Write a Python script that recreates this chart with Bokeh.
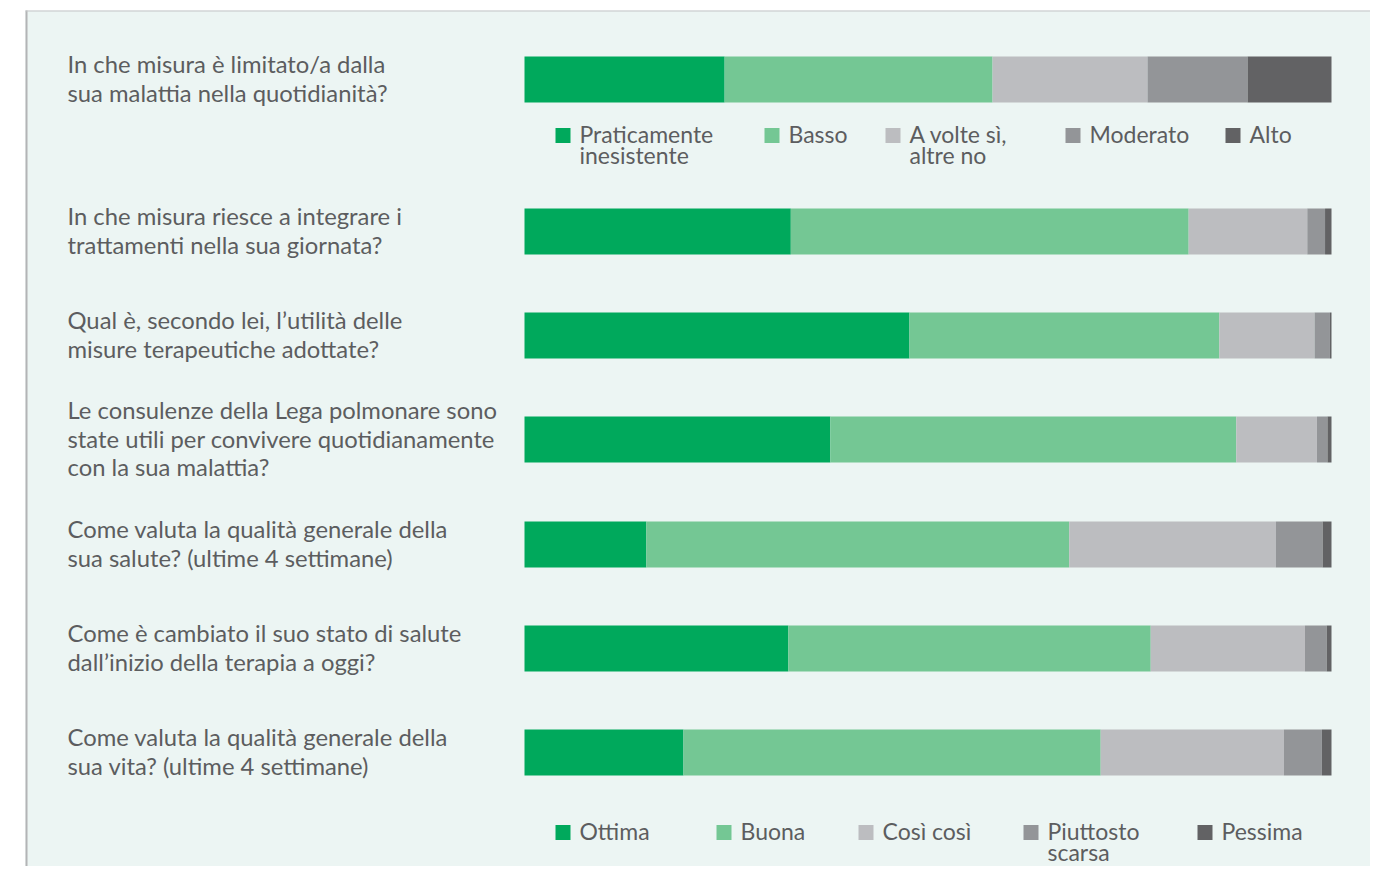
from bokeh.plotting import figure
from bokeh.models import Range1d
from bokeh.core.properties import value
from bokeh.embed import file_html
from bokeh.resources import INLINE

# ---------------- data ----------------
questions = [
    "In che misura è limitato/a dalla\nsua malattia nella quotidianità?",
    "In che misura riesce a integrare i\ntrattamenti nella sua giornata?",
    "Qual è, secondo lei, l’utilità delle\nmisure terapeutiche adottate?",
    "Le consulenze della Lega polmonare sono\nstate utili per convivere quotidianamente\ncon la sua malattia?",
    "Come valuta la qualità generale della\nsua salute? (ultime 4 settimane)",
    "Come è cambiato il suo stato di salute\ndall’inizio della terapia a oggi?",
    "Come valuta la qualità generale della\nsua vita? (ultime 4 settimane)",
]
# shares (%) per answer level, in the order of the questions above
level_1 = [24.8, 33.0, 47.7, 37.9, 15.1, 32.7, 19.7]
level_2 = [33.2, 49.3, 38.4, 50.3, 52.4, 44.9, 51.7]
level_3 = [19.2, 14.7, 11.8, 10.0, 25.6, 19.1, 22.7]
level_4 = [12.4, 2.2, 1.9, 1.3, 5.8, 2.7, 4.7]
level_5 = [10.4, 0.8, 0.2, 0.5, 1.1, 0.6, 1.2]

limit_labels = ["Praticamente\ninesistente", "Basso", "A volte sì,\naltre no", "Moderato", "Alto"]
rating_labels = ["Ottima", "Buona", "Così così", "Piuttosto\nscarsa", "Pessima"]

colors = ["#00a95c", "#74c794", "#bcbdc0", "#939598", "#626264"]

# ---------------- layout helpers ----------------
W, H = 1370, 866
X0, X100 = 524, 1331          # px of 0% and 100%
K = (X100 - X0) / 100.0


def sx(px):
    return (px - X0) / K


p = figure(width=W, height=H, output_backend="svg", toolbar_location=None,
           x_range=Range1d(sx(0), sx(W)), y_range=Range1d(H, 0),
           min_border=0, outline_line_color=None,
           background_fill_color="white", border_fill_color="white")
p.axis.visible = False
p.grid.visible = False

# panel
p.quad(left=[sx(25)], right=[sx(1400)], top=[10], bottom=[900],
       fill_color="#ecf5f3", line_color=None)
p.segment(x0=[sx(26)], y0=[10], x1=[sx(26)], y1=[900], line_color="#b3b4b6", line_width=2)
p.segment(x0=[sx(25)], y0=[10.5], x1=[sx(1400)], y1=[10.5], line_color="#c4c5c7", line_width=1)

centers = [79, 231, 335, 439, 544, 648, 752]
levels = [level_1, level_2, level_3, level_4, level_5]
left = [0.0] * len(questions)
for vals, col in zip(levels, colors):
    right = [l + v for l, v in zip(left, vals)]
    p.hbar(y=centers, left=left, right=right, height=46, fill_color=col, line_color=None)
    left = right

TXT = "#5c5d5f"
FONT = value("Lato")
LH = 28.7
tx, ty, tt = [], [], []
for q, c in zip(questions, centers):
    lines = q.split("\n")
    n = len(lines)
    for i, ln in enumerate(lines):
        tx.append(sx(67))
        ty.append(c - 1 + (i - (n - 1) / 2) * LH)
        tt.append(ln)
p.text(x=tx, y=ty, text=tt, text_font=FONT, text_font_size="23.8px",
       text_color=TXT, text_baseline="middle", text_align="left")


def legend(labels, sq_x, y):
    lx, ly, lt = [], [], []
    for lab, x, col in zip(labels, sq_x, colors):
        p.scatter(x=[sx(x + 7.5)], y=[y], marker="square", size=15, fill_color=col, line_color=None)
        for i, ln in enumerate(lab.split("\n")):
            lx.append(sx(x + 24))
            ly.append(y - 2 + i * 21.5)
            lt.append(ln)
    p.text(x=lx, y=ly, text=lt, text_font=FONT, text_font_size="23px",
           text_color=TXT, text_baseline="middle", text_align="left")


legend(limit_labels, [555, 764, 885, 1065, 1225], 135)
legend(rating_labels, [555, 716, 858, 1023, 1197], 832)

open("out.html", "w").write(file_html(p, INLINE))
